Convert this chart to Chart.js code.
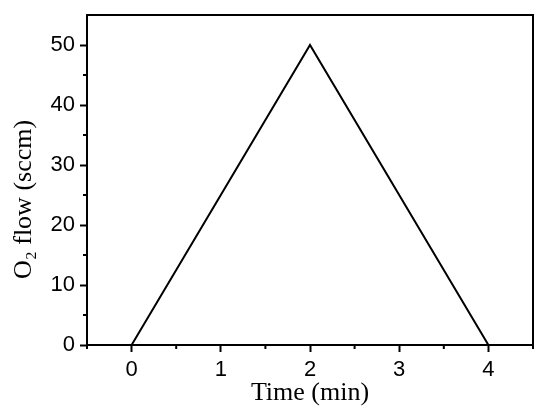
<!DOCTYPE html>
<html>
<head>
<meta charset="utf-8">
<script src="https://cdn.jsdelivr.net/npm/chart.js@4/dist/chart.umd.min.js"></script>
<style>
  html, body { margin: 0; padding: 0; background: #fff; }
  #wrap { width: 550px; height: 416px; }
</style>
</head>
<body>
<div id="wrap"><canvas id="myChart" width="550" height="416"></canvas></div>
<script>
// data
const TIME_MIN = [0, 2, 4];
const O2_FLOW = [0, 50, 0];
const X_MINOR = [-0.5, 0.5, 1.5, 2.5, 3.5, 4.5];
const Y_MINOR = [5, 15, 25, 35, 45];

// minor ticks + top/right frame
const frame = {
    id: 'frame',
    afterDraw(chart) {
        const ctx = chart.ctx;
        const a = chart.chartArea;
        const xs = chart.scales.x, ys = chart.scales.y;
        ctx.save();
        ctx.strokeStyle = '#000';
        ctx.lineWidth = 2;
        ctx.strokeRect(a.left, a.top, a.right - a.left, a.bottom - a.top);
        ctx.beginPath();
        X_MINOR.forEach(v => {
            const px = xs.getPixelForValue(v);
            ctx.moveTo(px, a.bottom);
            ctx.lineTo(px, a.bottom + 4);
        });
        Y_MINOR.forEach(v => {
            const py = ys.getPixelForValue(v);
            ctx.moveTo(a.left, py);
            ctx.lineTo(a.left - 4, py);
        });
        ctx.stroke();
        ctx.restore();
    }
};

const tickFont = { family: '"Liberation Sans", Arial, sans-serif', size: 22 };
const titleFont = { family: '"Liberation Serif", "Times New Roman", serif', size: 26 };

new Chart(document.getElementById('myChart').getContext('2d'), {
    type: 'line',
    data: {
        datasets: [{
            data: TIME_MIN.map((t, i) => ({ x: t, y: O2_FLOW[i] })),
            borderColor: '#000',
            borderWidth: 2,
            pointRadius: 0,
            tension: 0,
            fill: false
        }]
    },
    options: {
        responsive: false,
        animation: false,
        layout: { padding: { top: 15, right: 17, left: 0, bottom: 0 } },
        plugins: { legend: { display: false }, tooltip: { enabled: false } },
        scales: {
            x: {
                type: 'linear',
                min: -0.5, max: 4.5,
                afterBuildTicks: s => { s.ticks = [0, 1, 2, 3, 4].map(v => ({ value: v })); },
                afterFit: s => { s.height = 71; },
                border: { color: '#000', width: 2 },
                grid: { drawOnChartArea: false, tickLength: 7, tickColor: '#000', tickWidth: 2 },
                ticks: { color: '#000', font: tickFont, padding: 5, maxRotation: 0 },
                title: { display: true, text: 'Time (min)', color: '#000', font: titleFont, padding: { top: 0, bottom: 7 } }
            },
            y: {
                min: 0, max: 55,
                afterBuildTicks: s => { s.ticks = [0, 10, 20, 30, 40, 50].map(v => ({ value: v })); },
                afterFit: s => { s.width = 87; s.paddingTop = 0; s.paddingBottom = 0; },
                border: { color: '#000', width: 2 },
                grid: { drawOnChartArea: false, tickLength: 7, tickColor: '#000', tickWidth: 2 },
                ticks: { color: '#000', font: tickFont, padding: 5 },
                // trailing en spaces push the centred title down, as in the original
                title: { display: true, text: 'O₂ flow (sccm)\u2002\u2002\u2002', color: '#000', font: titleFont, padding: { top: 9, bottom: 0 } }
            }
        }
    },
    plugins: [frame]
});
</script>
</body>
</html>
